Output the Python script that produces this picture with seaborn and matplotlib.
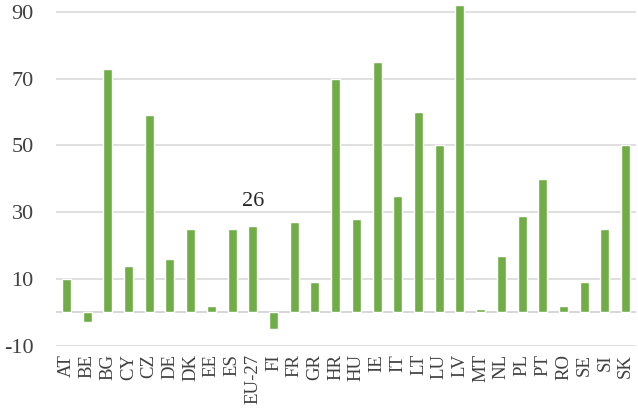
import matplotlib
matplotlib.use("Agg")
import matplotlib.pyplot as plt
import seaborn as sns
import pandas as pd

countries = ["AT", "BE", "BG", "CY", "CZ", "DE", "DK", "EE", "ES", "EU-27",
             "FI", "FR", "GR", "HR", "HU", "IE", "IT", "LT", "LU", "LV",
             "MT", "NL", "PL", "PT", "RO", "SE", "SI", "SK"]
values = [10, -3, 73, 14, 59, 16, 25, 2, 25, 26,
          -5, 27, 9, 70, 28, 75, 35, 60, 50, 92,
          1, 17, 29, 40, 2, 9, 25, 50]
y_ticks = [-10, 10, 30, 50, 70, 90]
highlight = "EU-27"

sns.set_theme(style="white")
plt.rcParams["font.family"] = ["Liberation Serif", "DejaVu Serif"]

df = pd.DataFrame({"country": countries, "value": values})

fig = plt.figure(figsize=(6.38, 4.08), dpi=100)
ax = fig.add_axes([0.0878, 0.1527, 0.9091, 0.8343])

sns.barplot(data=df, x="country", y="value", color="#70AD47", width=0.43,
            saturation=1, ax=ax)

ax.set_ylim(-10, 92)
ax.set_xlim(-0.5, len(countries) - 0.5)
ax.set_yticks(y_ticks)
ax.set_yticklabels([str(t) for t in y_ticks], fontsize=16, color="#404040")
ax.grid(False)
for t in y_ticks:
    ax.axhline(t, color="#D9D9D9", lw=1.2, zorder=0)
ax.axhline(0, color="#D0D0D0", lw=1.2, zorder=0.5)

ax.tick_params(axis="y", length=0, pad=16)
ax.tick_params(axis="x", length=0, pad=6)
for lbl in ax.get_xticklabels():
    lbl.set_rotation(90)
    lbl.set_fontsize(13.5)
    lbl.set_color("#404040")

ax.set_xlabel("")
ax.set_ylabel("")
for s in ax.spines.values():
    s.set_visible(False)

i = countries.index(highlight)
ax.annotate(str(values[i]), xy=(i, values[i]), xytext=(0, 14),
            textcoords="offset points", ha="center", va="baseline",
            fontsize=16, color="#262626")

fig.savefig("out.png", dpi=100)
